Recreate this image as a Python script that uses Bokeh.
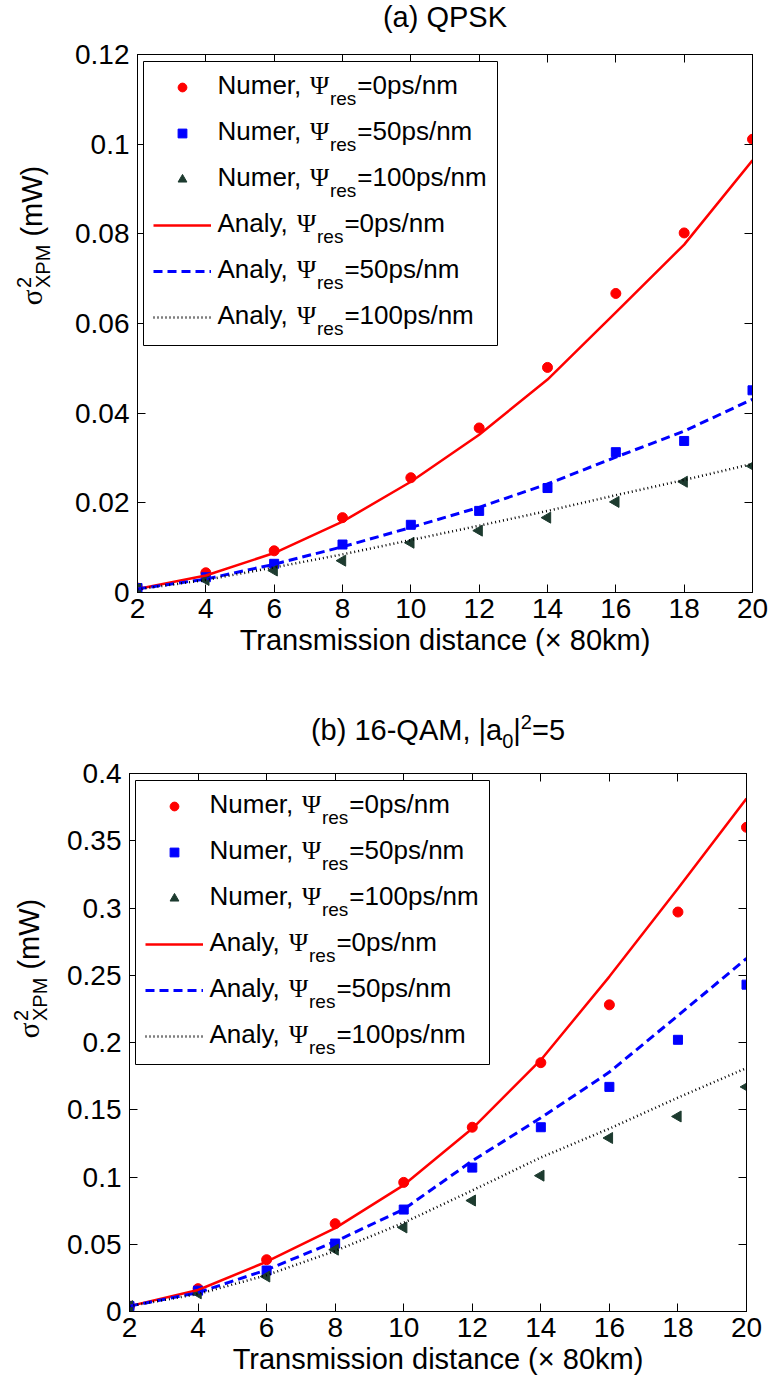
import math

from bokeh.core.properties import value
from bokeh.embed import file_html
from bokeh.layouts import column, row
from bokeh.models import BoxAnnotation, FixedTicker, Label, Legend, LegendItem, LinearAxis, Range1d
from bokeh.plotting import figure
from bokeh.resources import INLINE

# Transmission distance, in spans of 80 km
distance = [2, 4, 6, 8, 10, 12, 14, 16, 18, 20]
distance_ticks = [2, 4, 6, 8, 10, 12, 14, 16, 18, 20]

# (a) QPSK: XPM noise variance (mW)
qpsk_numer_0 = [0.0010, 0.0044, 0.0093, 0.0167, 0.0256, 0.0367, 0.0502, 0.0667, 0.0802, 0.1011]
qpsk_numer_50 = [0.0010, 0.0034, 0.0064, 0.0107, 0.0151, 0.0182, 0.0233, 0.0313, 0.0338, 0.0451]
qpsk_numer_100 = [0.0008, 0.0028, 0.0049, 0.0071, 0.0111, 0.0138, 0.0167, 0.0202, 0.0247, 0.0282]
qpsk_analy_0 = [0.0008, 0.0038, 0.0088, 0.0158, 0.0247, 0.0352, 0.0475, 0.0625, 0.0776, 0.0964]
qpsk_analy_50 = [0.0008, 0.0030, 0.0063, 0.0102, 0.0145, 0.0190, 0.0242, 0.0302, 0.0360, 0.0431]
qpsk_analy_100 = [0.0007, 0.0028, 0.0056, 0.0085, 0.0117, 0.0149, 0.0182, 0.0217, 0.0251, 0.0287]
qpsk_y_ticks = [0, 0.02, 0.04, 0.06, 0.08, 0.1, 0.12]
qpsk_y_labels = ["0", "0.02", "0.04", "0.06", "0.08", "0.1", "0.12"]

# (b) 16-QAM, |a0|^2 = 5: XPM noise variance (mW)
qam_numer_0 = [0.004, 0.017, 0.0385, 0.0653, 0.096, 0.137, 0.185, 0.228, 0.297, 0.360]
qam_numer_50 = [0.004, 0.0155, 0.0305, 0.0505, 0.0758, 0.107, 0.137, 0.167, 0.202, 0.243]
qam_numer_100 = [0.004, 0.0135, 0.026, 0.046, 0.0625, 0.0825, 0.101, 0.129, 0.145, 0.167]
qam_analy_0 = [0.004, 0.016, 0.037, 0.062, 0.094, 0.136, 0.187, 0.249, 0.3145, 0.3814]
qam_analy_50 = [0.004, 0.014, 0.031, 0.052, 0.076, 0.112, 0.144, 0.178, 0.220, 0.2625]
qam_analy_100 = [0.004, 0.013, 0.027, 0.045, 0.066, 0.090, 0.1145, 0.136, 0.159, 0.181]
qam_y_ticks = [0, 0.05, 0.1, 0.15, 0.2, 0.25, 0.3, 0.35, 0.4]
qam_y_labels = ["0", "0.05", "0.1", "0.15", "0.2", "0.25", "0.3", "0.35", "0.4"]

dispersion_labels = ["0", "50", "100"]

FIG_W = 772
YLAB_W = 62
FONT = "Liberation Sans"
GREEK = "Liberation Serif"
TICK_PX = 28
LABEL_PX = 29
LEGEND_PX = 26
SMALL_PX = 19
SCRIPT_PX = 20
# Label anchors sit this far (in em) above the drawn baseline
BASELINE_EM = 0.4

RED = "#ff0000"
BLUE = "#0000ff"
DARK = "#1d3b2f"

# advance widths (1/1000 em) of the Arial-metric sans face
ADV = {"(": 333, ")": 333, " ": 278, ",": 278, "-": 333, "/": 278, "|": 260, "=": 584,
       "A": 667, "K": 667, "M": 833, "N": 722, "P": 667, "Q": 778, "S": 667, "W": 944, "X": 667,
       "a": 556, "b": 556, "e": 556, "l": 222, "m": 833, "n": 556, "p": 556, "r": 333,
       "s": 500, "u": 556, "y": 500, "Ψ": 770, "σ": 560}


def text_w(s, px):
    return sum(ADV.get(ch, 556) for ch in s) * px / 1000.0


def put(p, x, y, text, px, font=FONT, angle=0.0):
    """Place a text run whose baseline passes through (x, y) in screen units."""
    if angle == 0.0:
        y = y + BASELINE_EM * px
    else:
        x = x - BASELINE_EM * px
    p.add_layout(Label(x=x, y=y, x_units="screen", y_units="screen", text=text,
                       text_font=font, text_font_size=f"{px}px", text_color="black",
                       text_align="left", text_baseline="alphabetic", angle=angle))


def text_strip(width, height):
    f = figure(width=width, height=height, x_range=Range1d(0, width), y_range=Range1d(0, height),
               output_backend="svg", toolbar_location=None, min_border=0,
               x_axis_location=None, y_axis_location=None,
               outline_line_color=None, background_fill_color="white", border_fill_color="white")
    f.grid.visible = False
    return f


def title_strip(height, runs, centre_x, baseline_from_top):
    f = text_strip(FIG_W, height)
    total = sum(text_w(txt, px) for txt, px, _ in runs)
    x = centre_x - total / 2
    for txt, px, shift in runs:
        put(f, x, height - (baseline_from_top + shift), txt, px)
        x += text_w(txt, px)
    return f


def ylabel_strip(height, centre_from_top, baseline_x):
    # sigma^2_XPM (mW), reading bottom to top
    f = text_strip(YLAB_W, height)
    w_sigma = text_w("σ", LABEL_PX)
    w_script = max(text_w("2", SCRIPT_PX), text_w("XPM", SCRIPT_PX))
    w_unit = text_w(" (mW)", LABEL_PX)
    length = w_sigma + 1 + w_script + w_unit
    y0 = (height - centre_from_top) - length / 2
    rot = math.pi / 2
    put(f, baseline_x, y0, "σ", LABEL_PX, font=GREEK, angle=rot)
    put(f, baseline_x - 12, y0 + w_sigma + 1, "2", SCRIPT_PX, angle=rot)
    put(f, baseline_x + 7, y0 + w_sigma + 1, "XPM", SCRIPT_PX, angle=rot)
    put(f, baseline_x, y0 + w_sigma + 1 + w_script + text_w(" ", LABEL_PX), "(mW)", LABEL_PX, angle=rot)
    return f


def make_panel(height, border, y_max, y_ticks, y_labels, numer, analy):
    left, right, top, bottom = border
    fh = height - top - bottom
    p = figure(width=FIG_W - YLAB_W, height=height, x_range=Range1d(2, 20), y_range=Range1d(0, y_max),
               output_backend="svg", toolbar_location=None,
               min_border_left=left, min_border_right=right,
               min_border_top=top, min_border_bottom=bottom,
               background_fill_color="white", border_fill_color="white",
               outline_line_color="black", outline_line_width=1)
    p.grid.visible = False

    # tick marks on the top and right edges of the box
    p.add_layout(LinearAxis(ticker=FixedTicker(ticks=distance_ticks), major_label_text_font_size="0px",
                            major_label_text_color=None, major_label_standoff=0), "above")
    p.add_layout(LinearAxis(ticker=FixedTicker(ticks=y_ticks), major_label_text_font_size="0px",
                            major_label_text_color=None, major_label_standoff=0), "right")
    for ax in p.axis:
        ax.major_tick_in = 8
        ax.major_tick_out = 0
        ax.minor_tick_in = 0
        ax.minor_tick_out = 0
        ax.axis_line_color = "black"
        ax.major_tick_line_color = "black"

    xa = p.below[0]
    xa.ticker = FixedTicker(ticks=distance_ticks)
    xa.major_label_text_font = FONT
    xa.major_label_text_font_size = f"{TICK_PX}px"
    xa.major_label_text_color = "black"
    xa.major_label_standoff = 6
    xa.axis_label = "Transmission distance (× 80km)"
    xa.axis_label_text_font = FONT
    xa.axis_label_text_font_size = f"{LABEL_PX}px"
    xa.axis_label_text_font_style = "normal"
    xa.axis_label_text_color = "black"
    xa.axis_label_standoff = 3

    ya = p.left[0]
    ya.ticker = FixedTicker(ticks=y_ticks)
    ya.major_label_overrides = {float(t): s for t, s in zip(y_ticks, y_labels)}
    ya.major_label_text_font = FONT
    ya.major_label_text_font_size = f"{TICK_PX}px"
    ya.major_label_text_color = "black"
    ya.major_label_standoff = 8

    # numerical results
    r_n0 = p.scatter(distance, numer[0], marker="circle", size=10, fill_color=RED, line_color=RED)
    r_n50 = p.scatter(distance, numer[1], marker="square", size=9, fill_color=BLUE, line_color=BLUE)
    r_n100 = p.scatter(distance, numer[2], marker="triangle", angle=math.pi / 2, size=11,
                       fill_color=DARK, line_color=DARK)
    # analytical curves
    r_a0 = p.line(distance, analy[0], line_color=RED, line_width=2.5)
    r_a50 = p.line(distance, analy[1], line_color=BLUE, line_width=3, line_dash="9 5")
    r_a100 = p.line(distance, analy[2], line_color="black", line_width=2.5, line_dash="1 3")
    renderers = [r_n0, r_n50, r_n100, r_a0, r_a50, r_a100]

    # legend frame
    p.add_layout(BoxAnnotation(left=6, right=360, top=fh - 7, bottom=fh - 291,
                               left_units="screen", right_units="screen",
                               top_units="screen", bottom_units="screen",
                               fill_color="white", fill_alpha=1.0,
                               line_color="black", line_width=1, line_alpha=1.0))
    row_pitch = 46
    first_row = 33
    legend = Legend(items=[LegendItem(label=value(" "), renderers=[r]) for r in renderers],
                    location=(16, fh - (first_row + 5 * row_pitch + 11)),
                    orientation="vertical", padding=0, margin=0, spacing=row_pitch - 22,
                    glyph_width=58, glyph_height=22, label_width=1, label_height=22,
                    label_standoff=0, label_text_font_size="6px",
                    label_text_color=None, label_text_alpha=0,
                    border_line_color=None, background_fill_alpha=0)
    p.add_layout(legend)

    prefixes = ["Numer, "] * 3 + ["Analy, "] * 3
    for i, pre in enumerate(prefixes):
        disp = dispersion_labels[i % 3]
        dy = first_row + row_pitch * i
        y_main = fh - (dy + 8)
        y_sub = fh - (dy + 19)
        x0 = 80
        put(p, x0, y_main, pre, LEGEND_PX)
        x_psi = x0 + text_w(pre, LEGEND_PX)
        put(p, x_psi, y_main, "Ψ", LEGEND_PX, font=GREEK)
        x_res = x_psi + text_w("Ψ", LEGEND_PX)
        put(p, x_res, y_sub, "res", SMALL_PX)
        x_rest = x_res + text_w("res", SMALL_PX) + 1
        put(p, x_rest, y_main, f"={disp}ps/nm", LEGEND_PX)
    return p


# (a) QPSK: canvas rows 0-36 (title) and 36-680 (plot); frame spans x 137-752, y 54-592
title_a = title_strip(36, [("(a) QPSK", LABEL_PX, 0)], 444.5, 28)
panel_a = make_panel(644, (137 - YLAB_W, 20, 18, 88), 0.12, qpsk_y_ticks, qpsk_y_labels,
                     [qpsk_numer_0, qpsk_numer_50, qpsk_numer_100],
                     [qpsk_analy_0, qpsk_analy_50, qpsk_analy_100])
ylab_a = ylabel_strip(644, 18 + 269, 43)

# (b) 16-QAM: canvas rows 680-754 (title) and 754-1385 (plot); frame spans x 129-746, y 773-1311
title_b = title_strip(74, [("(b) 16-QAM, |a", LABEL_PX, 0), ("0", SCRIPT_PX, 7), ("|", LABEL_PX, 0),
                           ("2", SCRIPT_PX, -12), ("=5", LABEL_PX, 0)], 437.5, 61)
panel_b = make_panel(631, (129 - YLAB_W, 26, 19, 74), 0.4, qam_y_ticks, qam_y_labels,
                     [qam_numer_0, qam_numer_50, qam_numer_100],
                     [qam_analy_0, qam_analy_50, qam_analy_100])
ylab_b = ylabel_strip(631, 19 + 269, 40)

layout = column(title_a, row(ylab_a, panel_a, spacing=0),
                title_b, row(ylab_b, panel_b, spacing=0), spacing=0)
open("out.html", "w").write(file_html(layout, INLINE))
